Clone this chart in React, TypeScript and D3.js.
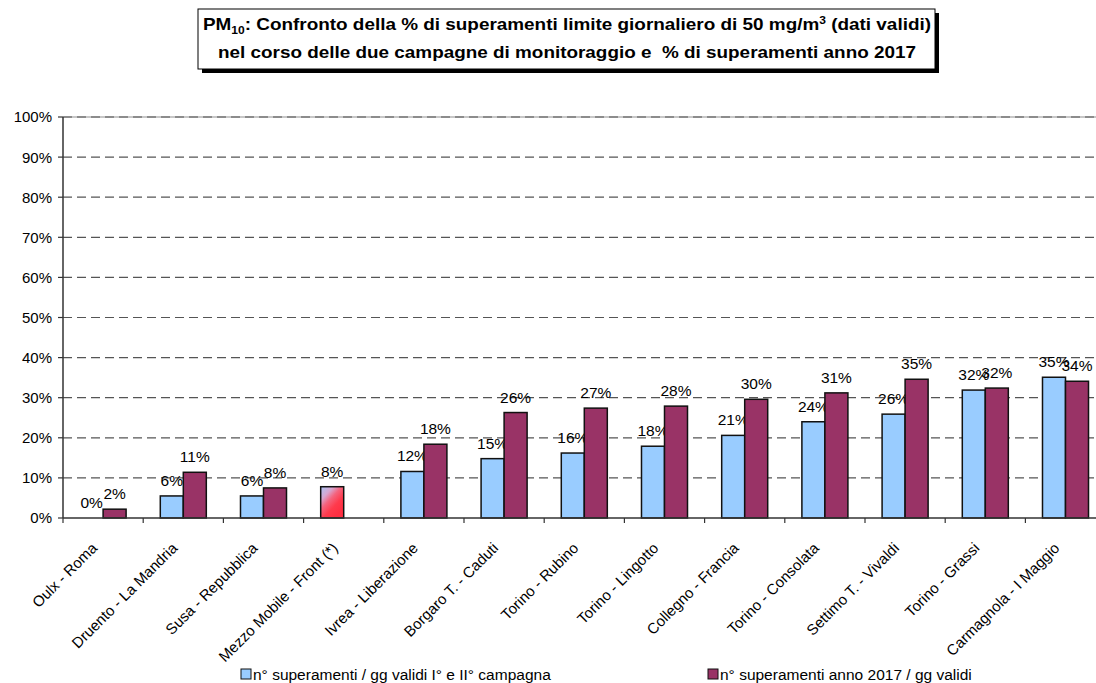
import React from "react";
import * as d3 from "d3";

const categories = [
  "Oulx - Roma",
  "Druento - La Mandria",
  "Susa - Repubblica",
  "Mezzo Mobile - Front (*)",
  "Ivrea - Liberazione",
  "Borgaro T. - Caduti",
  "Torino - Rubino",
  "Torino - Lingotto",
  "Collegno - Francia",
  "Torino - Consolata",
  "Settimo T. - Vivaldi",
  "Torino - Grassi",
  "Carmagnola - I Maggio",
];

// % superamenti nelle due campagne (gg validi I° e II° campagna)
const campagna = [0, 5.5, 5.5, 7.8, 11.6, 14.8, 16.2, 17.9, 20.6, 24.0, 25.9, 31.9, 35.1];
// % superamenti anno 2017 (gg validi)
const anno2017 = [2.2, 11.4, 7.5, null, 18.4, 26.3, 27.4, 27.9, 29.6, 31.2, 34.6, 32.4, 34.1];

const seriesNames = [
  "n° superamenti / gg validi I° e II° campagna",
  "n° superamenti anno 2017 / gg validi",
];
const seriesColors = ["#99CCFF", "#993366"];

const yTicks = [0, 10, 20, 30, 40, 50, 60, 70, 80, 90, 100];

// the mobile laboratory bar gets its own fill
const specialCategory = "Mezzo Mobile - Front (*)";

const FONT = "'Liberation Sans', Arial, Helvetica, sans-serif";

export default function App() {
  const W = 1096;
  const H = 683;
  const x0 = 63;
  const step = 80.2;
  const x = d3
    .scaleBand<string>()
    .domain(categories)
    .range([x0, x0 + step * categories.length])
    .paddingInner(0)
    .paddingOuter(0);
  const xs = d3
    .scaleBand<string>()
    .domain(["s0", "s1"])
    .range([0, x.bandwidth()])
    .paddingInner(0)
    .paddingOuter(0.743);
  const y = d3.scaleLinear().domain([0, 100]).range([518, 117]);

  const rows = categories.map((c, i) => ({
    cat: c,
    vals: [campagna[i], anno2017[i]],
  }));

  const fmt = (v: number) => `${Math.round(v)}%`;

  return (
    <svg
      width={W}
      height={H}
      style={{ position: "absolute", left: 0, top: 0, background: "#fff" }}
      fontFamily={FONT}
    >
      <defs>
        <linearGradient id="mezzoFill" x1="0" y1="0" x2="0.7" y2="0.9">
          <stop offset="0" stopColor="#a9c6f7" />
          <stop offset="0.3" stopColor="#d8a6d0" />
          <stop offset="0.5" stopColor="#f4647e" />
          <stop offset="0.75" stopColor="#ff3a4c" />
          <stop offset="1" stopColor="#ff2f42" />
        </linearGradient>
      </defs>

      {/* title box with drop shadow */}
      <rect x={202} y={13} width={737} height={60} fill="#000" />
      <rect x={198} y={9} width={737} height={60} fill="#fff" stroke="#000" strokeWidth={1} />
      <text
        x={567}
        y={30}
        textAnchor="middle"
        fontSize={16.5}
        fontWeight="bold"
        textLength={728}
        lengthAdjust="spacingAndGlyphs"
      >
        <tspan>PM</tspan>
        <tspan fontSize={10.5} dy={4}>10</tspan>
        <tspan dy={-4}>: Confronto della % di superamenti limite giornaliero di 50 mg/m</tspan>
        <tspan fontSize={10.5} dy={-6}>3</tspan>
        <tspan dy={6}> (dati validi)</tspan>
      </text>
      <text
        x={567}
        y={58}
        textAnchor="middle"
        fontSize={16.5}
        fontWeight="bold"
        textLength={698}
        lengthAdjust="spacingAndGlyphs"
        style={{ whiteSpace: "pre" }}
      >
        {"nel corso delle due campagne di monitoraggio e  % di superamenti anno 2017"}
      </text>

      {/* gridlines */}
      {yTicks.slice(1).map((t) =>
        t === 100 ? (
          <g key={`g${t}`}>
            <line x1={x0} x2={W} y1={y(t)} y2={y(t)} stroke="#b4b4b4" strokeWidth={1.6} />
            <line
              x1={x0}
              x2={W}
              y1={y(t)}
              y2={y(t)}
              stroke="#7a7a7a"
              strokeWidth={1.6}
              strokeDasharray="9,5"
            />
          </g>
        ) : (
          <line
            key={`g${t}`}
            x1={x0}
            x2={W}
            y1={y(t)}
            y2={y(t)}
            stroke="#555"
            strokeWidth={1.2}
            strokeDasharray="9,5"
          />
        )
      )}

      {/* y axis */}
      <line x1={x0} x2={x0} y1={y(100)} y2={y(0)} stroke="#333" strokeWidth={1.5} />
      {yTicks.map((t) => (
        <g key={`yt${t}`}>
          <line x1={x0 - 5} x2={x0} y1={y(t)} y2={y(t)} stroke="#333" strokeWidth={1.2} />
          <text x={52} y={y(t)} dy="0.36em" textAnchor="end" fontSize={15} fill="#000">
            {`${t}%`}
          </text>
        </g>
      ))}

      {/* bars */}
      {rows.map((r) =>
        r.vals.map((v, si) => {
          if (v === null || v === undefined) return null;
          const bx = (x(r.cat) as number) + (xs(`s${si}`) as number);
          const bw = xs.bandwidth();
          const top = y(v);
          const fill =
            r.cat === specialCategory ? "url(#mezzoFill)" : seriesColors[si];
          return (
            <g key={`${r.cat}-${si}`}>
              {v > 0 && (
                <rect
                  x={bx}
                  y={top}
                  width={bw}
                  height={y(0) - top}
                  fill={fill}
                  stroke="#111"
                  strokeWidth={1.5}
                />
              )}
              <text
                x={bx + bw / 2}
                y={top - 10}
                textAnchor="middle"
                fontSize={15.5}
                fill="#000"
              >
                {fmt(v)}
              </text>
            </g>
          );
        })
      )}

      {/* x axis */}
      <line x1={x0} x2={W} y1={y(0)} y2={y(0)} stroke="#333" strokeWidth={1.5} />
      {categories.map((c) => (
        <line
          key={`xt${c}`}
          x1={x(c) as number}
          x2={x(c) as number}
          y1={y(0)}
          y2={y(0) + 5}
          stroke="#333"
          strokeWidth={1.2}
        />
      ))}
      {categories.map((c) => {
        const cx = (x(c) as number) + x.bandwidth() / 2;
        return (
          <text
            key={`xl${c}`}
            transform={`translate(${cx - 5},${549}) rotate(-45)`}
            textAnchor="end"
            fontSize={15}
            fill="#000"
          >
            {c}
          </text>
        );
      })}

      {/* legend */}
      {seriesNames.map((n, i) => {
        const lx = i === 0 ? 241 : 708;
        return (
          <g key={`lg${i}`}>
            <rect x={lx} y={669} width={10} height={10} fill={seriesColors[i]} stroke="#111" strokeWidth={1} />
            <text x={lx + 12} y={680} fontSize={15.5} fill="#000">
              {n}
            </text>
          </g>
        );
      })}
    </svg>
  );
}
